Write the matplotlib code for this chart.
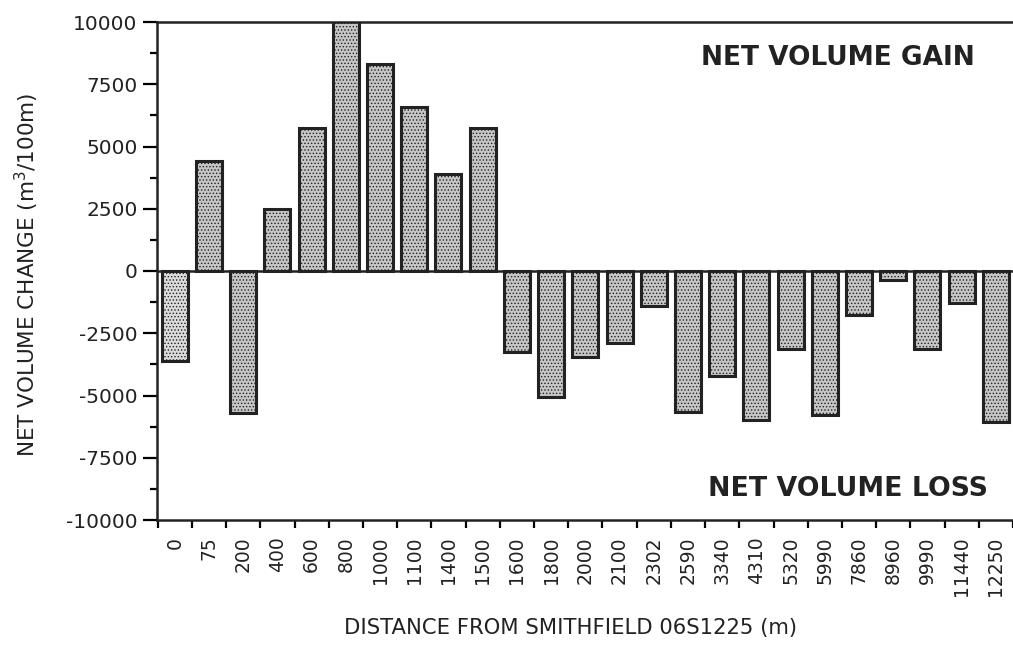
import numpy as np
import matplotlib.pyplot as plt
from matplotlib.ticker import MultipleLocator

plt.rcParams['font.family'] = ['DejaVu Sans']
plt.rcParams['hatch.linewidth'] = 0.6

distances = ['0', '75', '200', '400', '600', '800', '1000', '1100', '1400', '1500',
             '1600', '1800', '2000', '2100', '2302', '2590', '3340', '4310', '5320',
             '5990', '7860', '8960', '9990', '11440', '12250']
net_change = [-3600, 4400, -5700, 2500, 5750, 10400, 8300, 6600, 3900, 5750,
              -3250, -5050, -3450, -2900, -1400, -5650, -4200, -6000, -3150,
              -5800, -1750, -350, -3150, -1300, -6050]
y_ticks = [-10000, -7500, -5000, -2500, 0, 2500, 5000, 7500, 10000]

ink = '#222222'

fig = plt.figure(figsize=(10.13, 6.48), dpi=100)
ax = fig.add_axes([157/1013, 1 - 520/648, (1013 - 157)/1013, (520 - 22)/648])

x = np.arange(len(distances))
bars = ax.bar(x, net_change, width=0.76, facecolor='#c6c6c6', edgecolor=ink,
              linewidth=2.2, hatch='.....', zorder=2)
bars[0].set_facecolor('#dadada')

# zero line across the whole plot
ax.axhline(0, color=ink, lw=1.8, zorder=3)

ax.set_xlim(-0.52, 24.3)
ax.set_ylim(-10000, 10000)

ax.spines['right'].set_visible(False)
for s in ['top', 'left', 'bottom']:
    ax.spines[s].set_linewidth(1.8)
    ax.spines[s].set_color(ink)
    ax.spines[s].set_zorder(4)

ax.set_yticks(y_ticks)
ax.set_yticklabels([str(v) for v in y_ticks], fontsize=14.5, color=ink)
ax.yaxis.set_minor_locator(MultipleLocator(1250))
ax.tick_params(axis='y', which='major', length=10, width=1.6, direction='out', pad=4)
ax.tick_params(axis='y', which='minor', length=5, width=1.6, direction='out')

ax.set_xticks(x)
ax.set_xticklabels(distances, rotation=90, fontsize=13.5, color=ink)
ax.set_xticks(np.arange(len(distances) + 1) - 0.5, minor=True)
ax.tick_params(axis='x', which='major', length=0, pad=12)
ax.tick_params(axis='x', which='minor', length=6, width=1.6, direction='out')

fig.text(27/1013, 1 - 275/648, 'NET VOLUME CHANGE (m$^3$/100m)', fontsize=15.5,
         color=ink, rotation=90, ha='center', va='center')
fig.text(571/1013, 1 - 628/648, 'DISTANCE FROM SMITHFIELD 06S1225 (m)', fontsize=15.2,
         color=ink, ha='center', va='center')

fig.text(975/1013, 1 - 58/648, 'NET VOLUME GAIN', fontsize=19, fontweight='bold',
         color=ink, ha='right', va='center')
fig.text(988/1013, 1 - 489/648, 'NET VOLUME LOSS', fontsize=19.3, fontweight='bold',
         color=ink, ha='right', va='center')

fig.savefig('out.png', dpi=100)
